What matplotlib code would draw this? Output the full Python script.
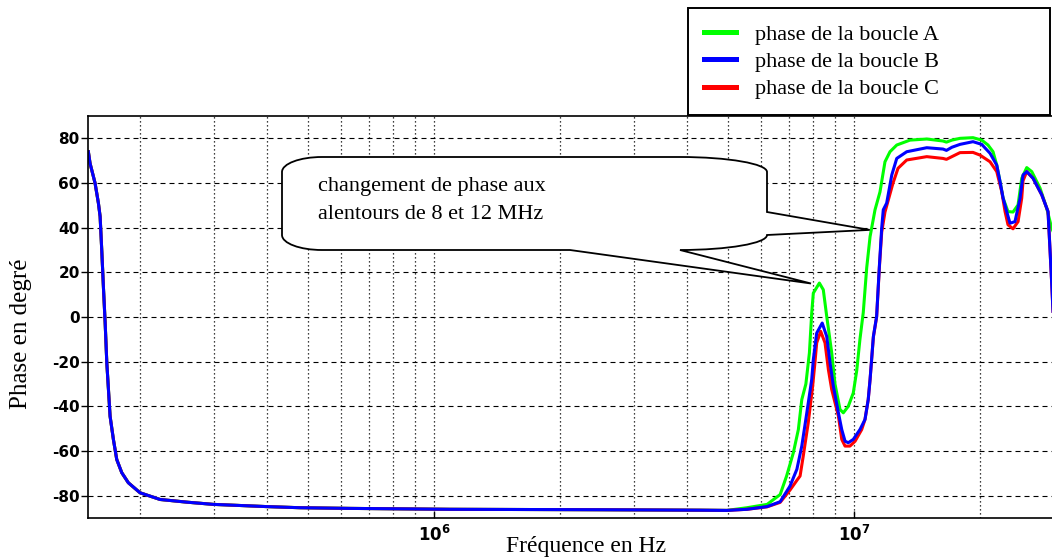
import numpy as np
import matplotlib.pyplot as plt
from matplotlib.path import Path
from matplotlib.patches import PathPatch
from matplotlib.ticker import LogLocator, FuncFormatter, NullFormatter

plt.rcParams['axes.unicode_minus'] = False

# partie basse fréquence commune aux trois boucles (Hz, degrés)
freq_low = [1.503e5, 1.517e5, 1.559e5, 1.588e5, 1.603e5, 1.618e5, 1.632e5, 1.648e5,
            1.663e5, 1.678e5, 1.693e5, 1.724e5, 1.756e5, 1.805e5, 1.871e5, 1.995e5,
            2.226e5, 2.577e5, 2.981e5, 4.0e5, 4.8e5, 6.31e5, 1.09e6, 2.48e6, 4.3e6]
phase_low = [74, 68.8, 60, 51, 45, 29.3, 13.7, -2.7,
             -20.6, -32.5, -44.4, -54.8, -63.8, -69.7, -74.2, -78.7,
             -81.7, -82.9, -83.9, -84.9, -85.4, -85.7, -86.1, -86.3, -86.5]

# partie haute fréquence (MHz, degrés)
freq_a = [4.98, 5.56, 6.21, 6.67, 6.91, 7.17, 7.37, 7.51, 7.68, 7.83, 7.93, 8.00, 8.27, 8.45,
          8.61, 8.85, 9.01, 9.26, 9.43, 9.69, 9.96, 10.15, 10.33, 10.52, 10.72, 10.92, 11.02,
          11.22, 11.53, 11.85, 12.18, 12.64, 13.59, 14.90, 16.29, 16.60, 17.10, 17.88, 19.20,
          20.14, 20.85, 21.43, 21.87, 22.27, 22.64, 23.26, 23.91, 24.58, 25.08, 25.78, 26.50,
          27.73, 28.76, 29.56, 30.0]
phase_a = [-86.6, -85.4, -83.9, -79.5, -71.2, -60.8, -50.4, -37, -30, -16.1, 1.8, 10.7, 15.2, 12.2,
           0.3, -16.1, -30, -41.4, -42.9, -40, -34, -24, -10, 2, 22, 36, 40,
           48, 56, 69.5, 74, 77, 79.2, 79.7, 78.8, 78.3, 79.2, 80, 80.3,
           79.2, 77, 74, 68, 60.6, 53.3, 47.2, 47, 50.2, 62.1, 66.9, 65.1,
           57.7, 48.7, 39.8, 37]

freq_b = [4.98, 5.56, 6.21, 6.67, 7.04, 7.31, 7.51, 7.72, 7.93, 8.00, 8.15, 8.40, 8.61, 8.77,
          8.93, 9.18, 9.35, 9.52, 9.69, 9.96, 10.33, 10.62, 10.81, 10.92, 11.12, 11.32, 11.49,
          11.64, 11.74, 11.96, 12.30, 12.64, 13.35, 14.90, 16.29, 16.60, 17.10, 17.88, 19.20,
          20.14, 21.08, 21.87, 22.27, 22.64, 23.10, 23.52, 24.17, 24.85, 25.26, 25.78, 26.69,
          27.99, 28.97, 29.29, 29.56, 29.78, 30.0]
phase_b = [-86.6, -86.1, -84.9, -82.7, -75.7, -68.2, -57.8, -42.9, -28, -19.1, -7.2, -2.7, -8.7, -20.6,
           -31, -42.9, -50.4, -55.6, -56.3, -54.8, -50.4, -45.9, -37, -28, -8.7, 0.3, 22.6,
           40, 48, 51, 63.6, 71, 74, 75.8, 75.2, 74.6, 76, 77.3, 78.5,
           77.3, 73.3, 68, 60.6, 53.3, 47.2, 42, 42.7, 53.2, 63.6, 65.1, 62.1,
           54.7, 47.2, 30, 15, 2, 0]

freq_c = [4.98, 5.56, 6.21, 6.67, 7.04, 7.32, 7.44, 7.57, 7.78, 7.97, 8.07, 8.15, 8.33, 8.53,
          8.69, 8.85, 9.18, 9.35, 9.52, 9.78, 10.06, 10.43, 10.62, 10.81, 10.92, 11.12, 11.32,
          11.49, 11.64, 11.85, 12.38, 12.73, 13.35, 14.90, 16.29, 16.60, 17.10, 17.88, 19.20,
          19.95, 21.08, 21.87, 22.48, 22.89, 23.26, 23.91, 24.58, 25.08, 25.26, 25.78, 26.69,
          27.99, 28.97, 29.29, 29.56, 29.78, 30.0]
phase_c = [-86.6, -86.1, -85.0, -83.0, -77.5, -73.0, -71.2, -62.3, -47.4, -31, -20.6, -11.6, -6.4, -11.6,
           -23.6, -32.5, -44.4, -54.8, -57.8, -57.8, -55.6, -50.4, -45.9, -37, -28, -9, 0,
           22, 38, 47, 59.9, 66.6, 70.3, 71.8, 71.0, 70.6, 71.8, 73.6, 73.7,
           72.5, 69.5, 65.1, 56.1, 47.2, 41.3, 39.5, 42.7, 53.2, 61, 65.1, 62.1,
           54.7, 47.2, 30, 15, 2, 0]

labels = ['phase de la boucle A', 'phase de la boucle B', 'phase de la boucle C']
yticks = [-80, -60, -40, -20, 0, 20, 40, 60, 80]

# points visés par la bulle (Hz, degrés)
tip_8mhz = (7.9e6, 15)
tip_12mhz = (1.09e7, 39)


def full(freq_hi, phase_hi):
    f = np.concatenate([freq_low, np.array(freq_hi) * 1e6])
    p = np.concatenate([phase_low, phase_hi])
    return f, p


W, H = 1052, 558
fig = plt.figure(figsize=(W / 100, H / 100), dpi=100)
ax = fig.add_axes([88 / W, 1 - 518 / H, 966.4 / W, 402 / H])

fa, pa = full(freq_a, phase_a)
fb, pb = full(freq_b, phase_b)
fc, pc = full(freq_c, phase_c)
la, = ax.plot(fa, pa, color='#00ff00', lw=2.2)
lc, = ax.plot(fc, pc, color='#ff0000', lw=2.2)
lb, = ax.plot(fb, pb, color='#0000ff', lw=2.2)

ax.set_xscale('log')
ax.set_xlim(1.5e5, 3e7)
ax.set_ylim(-90, 90)
ax.set_yticks(yticks)
ax.xaxis.set_major_locator(LogLocator(base=10))
ax.xaxis.set_minor_locator(LogLocator(base=10, subs=np.arange(2, 10)))
ax.xaxis.set_major_formatter(FuncFormatter(lambda v, pos: r'$\mathbf{10^{%d}}$' % round(np.log10(v))))
ax.xaxis.set_minor_formatter(NullFormatter())

ax.grid(True, which='major', axis='y', linestyle=(0, (4.5, 3.6)), color='black', lw=0.8)
ax.grid(True, which='both', axis='x', linestyle=(0, (1, 2.2)), color='black', lw=0.9)

ax.tick_params(axis='y', direction='out', length=5, width=1, pad=1, labelsize=11)
ax.tick_params(axis='x', which='major', direction='in', length=5, width=1, pad=5, labelsize=12)
ax.tick_params(axis='x', which='minor', length=0)
for t in ax.get_yticklabels():
    t.set_fontweight('bold')
for s in ax.spines.values():
    s.set_linewidth(1.2)

ax.set_xlabel('Fréquence en Hz', family='Liberation Serif', fontsize=17)
ax.xaxis.set_label_coords(0.5148, -0.044)
ax.set_ylabel('Phase en degré', family='Liberation Serif', fontsize=18)
ax.yaxis.set_label_coords(-0.058, 0.459)

leg = ax.legend([la, lb, lc], labels, loc='upper left',
                bbox_to_anchor=(688 / W, 1 - 118 / H, 362 / W, 110 / H),
                bbox_transform=fig.transFigure, mode='expand', borderaxespad=0,
                prop={'family': 'Liberation Serif', 'size': 16},
                fancybox=False, edgecolor='black', framealpha=1,
                borderpad=0.72, labelspacing=0.31, handlelength=1.44, handletextpad=0.86)
leg.get_frame().set_linewidth(1.4)
for line in leg.get_lines():
    line.set_linewidth(3.6)

# bulle d'annotation (coordonnées pixel, origine en haut à gauche)
L, R, T, B = 282, 767, 157, 250
rxl, rxr, ry = 40, 87, 15
k = 0.5523


def to_fig(x, y):
    return (x / W, 1 - y / H)


def data_px(pt):
    x, y = ax.transData.transform(pt)
    return x, H - y


t1 = data_px(tip_12mhz)
t2 = data_px(tip_8mhz)
pts = [
    ((L + rxl, T), Path.MOVETO),
    ((R - rxr, T), Path.LINETO),
    ((R - rxr + k * rxr, T), Path.CURVE4),
    ((R, T + ry - k * ry), Path.CURVE4),
    ((R, T + ry), Path.CURVE4),
    ((R, 212), Path.LINETO),
    (t1, Path.LINETO),
    ((R, B - ry), Path.LINETO),
    ((R, B - ry + k * ry), Path.CURVE4),
    ((R - rxr + k * rxr, B), Path.CURVE4),
    ((R - rxr, B), Path.CURVE4),
    (t2, Path.LINETO),
    ((570, B), Path.LINETO),
    ((L + rxl, B), Path.LINETO),
    ((L + rxl - k * rxl, B), Path.CURVE4),
    ((L, B - ry + k * ry), Path.CURVE4),
    ((L, B - ry), Path.CURVE4),
    ((L, T + ry), Path.LINETO),
    ((L, T + ry - k * ry), Path.CURVE4),
    ((L + rxl - k * rxl, T), Path.CURVE4),
    ((L + rxl, T), Path.CURVE4),
    ((L + rxl, T), Path.CLOSEPOLY),
]
verts = [to_fig(*p) for p, c in pts]
codes = [c for p, c in pts]
bubble = PathPatch(Path(verts, codes), transform=fig.transFigure,
                   facecolor='white', edgecolor='black', lw=1.3, zorder=3)
fig.add_artist(bubble)
fig.text(318 / W, 1 - 177 / H, 'changement de phase aux\nalentours de 8 et 12 MHz',
         family='Liberation Serif', fontsize=16, va='top', ha='left',
         linespacing=1.65, zorder=4)

fig.savefig('out.png', dpi=100)
